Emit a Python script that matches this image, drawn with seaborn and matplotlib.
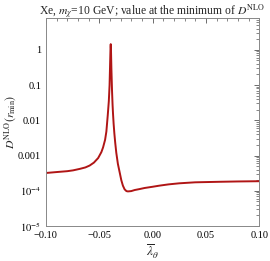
import numpy as np
import pandas as pd
import matplotlib
matplotlib.use("Agg")
import matplotlib.pyplot as plt
import seaborn as sns
from matplotlib.ticker import MultipleLocator, LogLocator, NullFormatter, FixedLocator

lam = [-0.100, -0.090, -0.080, -0.0745, -0.068, -0.063, -0.059, -0.055, -0.051,
       -0.048, -0.0464, -0.0445, -0.0433, -0.042, -0.041, -0.0403, -0.0398, -0.0394,
       -0.0392, -0.0390, -0.0386, -0.0380, -0.0375, -0.0371, -0.0365, -0.0358,
       -0.0350, -0.0340, -0.0325, -0.0308, -0.0293, -0.0278, -0.0262, -0.0245,
       -0.0231, -0.0200, -0.0168, -0.0121, -0.0075, 0.0000, 0.0065, 0.0150, 0.0250,
       0.0400, 0.0626, 0.0800, 0.1000]
dval = [3.2e-4, 3.4e-4, 3.6e-4, 3.8e-4, 4.2e-4, 4.6e-4, 5.2e-4, 6.3e-4, 8.5e-4,
        1.25e-3, 1.7e-3, 2.8e-3, 4.8e-3, 1.4e-2, 3.5e-2, 0.10, 0.40, 1.2,
        1.45, 1.1, 0.30, 0.07, 2.8e-2, 1.6e-2, 8.0e-3, 4.2e-3,
        2.3e-3, 1.2e-3, 5.8e-4, 3.3e-4, 2.0e-4, 1.4e-4, 1.1e-4, 0.98e-4,
        0.96e-4, 0.98e-4, 1.05e-4, 1.12e-4, 1.2e-4, 1.3e-4, 1.4e-4, 1.52e-4, 1.63e-4,
        1.74e-4, 1.8e-4, 1.84e-4, 1.87e-4]
yticks = [1, 0.1, 0.01, 0.001, 1e-4, 1e-5]
ylabels = ["1", "0.1", "0.01", "0.001", r"$10^{-4}$", r"$10^{-5}$"]
xticks = [-0.10, -0.05, 0.00, 0.05, 0.10]
xlabels = ["\u22120.10", "\u22120.05", "0.00", "0.05", "0.10"]

df = pd.DataFrame({"lam": lam, "D": dval})

sns.set_theme(style="white")
plt.rcParams["font.family"] = ["Liberation Serif", "DejaVu Serif"]
plt.rcParams["mathtext.fontset"] = "stix"

fig = plt.figure(figsize=(2.70, 2.61), dpi=100)
ax = fig.add_axes([0.170, 0.134, 0.790, 0.797])
sns.lineplot(data=df, x="lam", y="D", ax=ax, color="#b01515", linewidth=1.4)
ax.set_yscale("log")
ax.set_xlim(-0.10, 0.10)
ax.set_ylim(1e-5, 8)
ax.yaxis.set_major_locator(FixedLocator(yticks))
ax.set_yticklabels(ylabels)
ax.yaxis.set_minor_locator(LogLocator(base=10, subs=np.arange(2, 10)))
ax.yaxis.set_minor_formatter(NullFormatter())
ax.set_xticks(xticks)
ax.set_xticklabels(xlabels)
ax.xaxis.set_minor_locator(MultipleLocator(0.01))
ax.tick_params(which="both", direction="in", top=True, right=True, colors="#555555",
               labelcolor="black", labelsize=7.5)
ax.tick_params(which="major", length=3.5, width=0.6)
ax.tick_params(which="minor", length=2, width=0.5)
for s in ax.spines.values():
    s.set_color("#888888")
    s.set_linewidth(0.7)
ax.set_xlabel(r"$\overline{\lambda}_\theta$", fontsize=9.5, labelpad=2)
ax.set_ylabel(r"$D^{\rm NLO}(r_{\rm min})$", fontsize=8.5, labelpad=0)
ax.set_title(r"Xe, $m_\chi$=10 GeV; value at the minimum of $D^{\rm NLO}$", fontsize=8.4, pad=2)
fig.savefig("out.png", dpi=100)
